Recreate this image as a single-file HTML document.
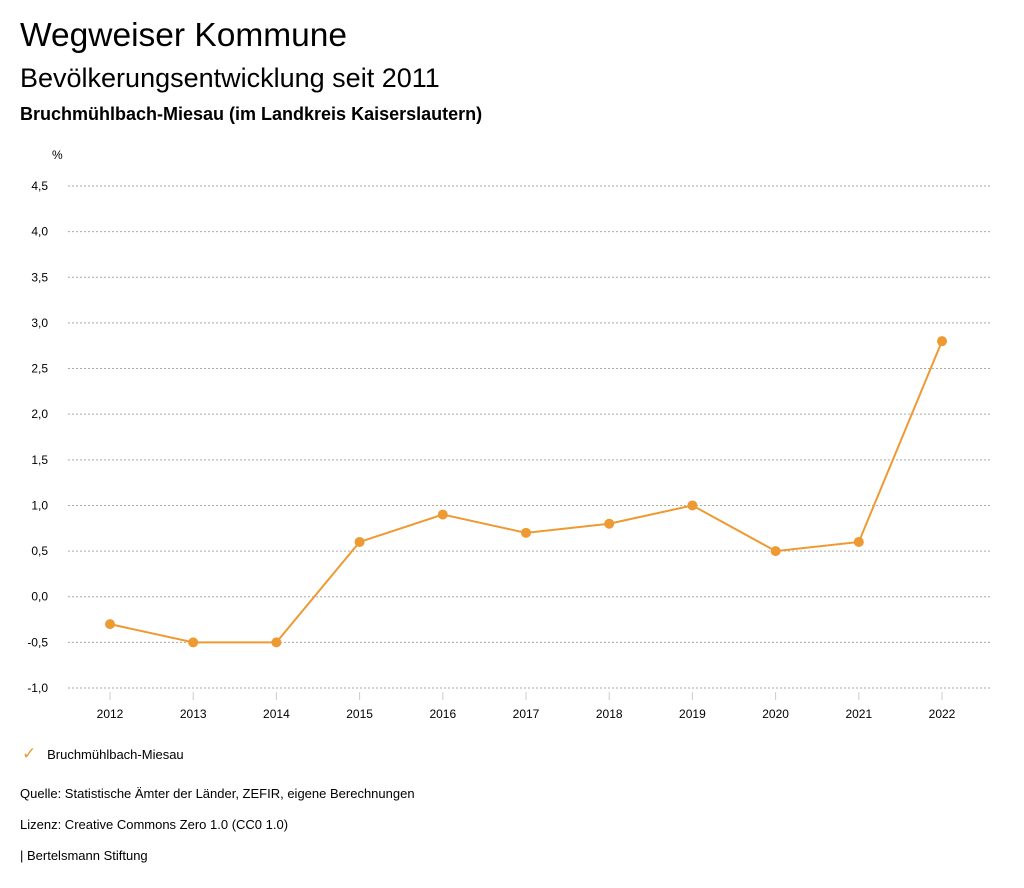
<!DOCTYPE html>
<html><head><meta charset="utf-8"><style>
body{margin:0;background:#fff;font-family:"Liberation Sans",sans-serif;color:#000;width:1024px;height:888px;overflow:hidden;position:relative}
.t{position:absolute;white-space:nowrap}
</style></head><body>
<div class="t" style="left:20px;top:17px;font-size:33.5px">Wegweiser Kommune</div>
<div class="t" style="left:20px;top:63px;font-size:27px">Bevölkerungsentwicklung seit 2011</div>
<div class="t" style="left:20px;top:104px;font-size:18px;font-weight:bold">Bruchmühlbach-Miesau (im Landkreis Kaiserslautern)</div>
<svg id="chart" width="1024" height="888" style="position:absolute;left:0;top:0"></svg>
<div class="t" style="left:22px;top:744px;font-size:13px"><span style="color:#ee9a33;font-size:17px">✓</span>&nbsp;&nbsp;&nbsp;Bruchmühlbach-Miesau</div>
<div class="t" style="left:20px;top:786px;font-size:13px">Quelle: Statistische Ämter der Länder, ZEFIR, eigene Berechnungen</div>
<div class="t" style="left:20px;top:817px;font-size:13px">Lizenz: Creative Commons Zero 1.0 (CC0 1.0)</div>
<div class="t" style="left:20px;top:848px;font-size:13px">| Bertelsmann Stiftung</div>
<script>
const years=["2012","2013","2014","2015","2016","2017","2018","2019","2020","2021","2022"];
const values=[-0.3,-0.5,-0.5,0.6,0.9,0.7,0.8,1.0,0.5,0.6,2.8];
const yTicks=[-1,-0.5,0,0.5,1,1.5,2,2.5,3,3.5,4,4.5];
const NS="http://www.w3.org/2000/svg",svg=document.getElementById('chart');
const y=v=>688-(v+1)/5.5*502;
const x=i=>110+i*83.2;
function el(t,a){const e=document.createElementNS(NS,t);for(const k in a)e.setAttribute(k,a[k]);svg.appendChild(e);return e;}
let u=el('text',{x:52,y:159,'font-size':12,'font-family':'Liberation Sans,sans-serif'});u.textContent='%';


yTicks.forEach(v=>{
 const g=el('line',{x1:68,x2:990,y1:y(v),y2:y(v),stroke:'#aaa','stroke-dasharray':'2,2'});
 
 
 const t=el('text',{x:48,y:y(v)+4,'text-anchor':'end','font-size':12,'font-family':'Liberation Sans,sans-serif'});
 t.textContent=v.toFixed(1).replace('.',',');
 
 
});
years.forEach((yr,i)=>{
 const k=el('line',{x1:x(i),x2:x(i),y1:692,y2:700,stroke:'#ccc'});
 
 
 const t=el('text',{x:x(i),y:718,'text-anchor':'middle','font-size':12,'font-family':'Liberation Sans,sans-serif'});
 t.textContent=yr;
 
 
});
const p=el('polyline',{points:values.map((v,i)=>x(i)+','+y(v)).join(' '),fill:'none',stroke:'#ee9a33','stroke-width':2});


values.forEach((v,i)=>{
 const c=el('circle',{cx:x(i),cy:y(v),r:5,fill:'#ee9a33'});
 
 
});
</script>
</body></html>
